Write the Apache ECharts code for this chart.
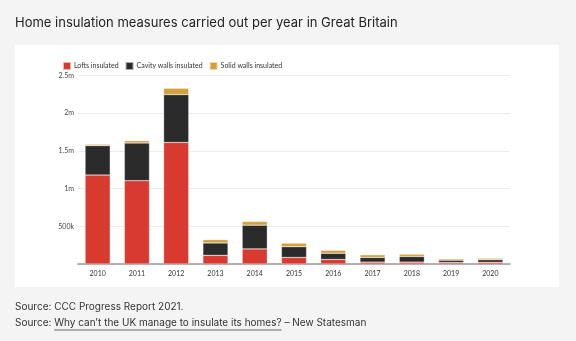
<!DOCTYPE html>
<html>
<head>
<meta charset="utf-8">
<script src="https://cdn.jsdelivr.net/npm/echarts@6/dist/echarts.min.js"></script>
<style>
  html, body { margin: 0; padding: 0; background: #f4f4f4; }
  #chart { width: 576px; height: 341px; }
</style>
</head>
<body>
<div id="chart"></div>
<script>
// Insulation measures per year, Great Britain (millions)
const years = ['2010', '2011', '2012', '2013', '2014', '2015', '2016', '2017', '2018', '2019', '2020'];
const lofts = [1.18, 1.105, 1.612, 0.115, 0.2, 0.087, 0.06, 0.025, 0.025, 0.02, 0.022];
const cavity = [0.39, 0.5, 0.635, 0.164, 0.315, 0.143, 0.082, 0.062, 0.075, 0.031, 0.035];
const solid = [0.018, 0.031, 0.084, 0.044, 0.049, 0.047, 0.04, 0.035, 0.031, 0.017, 0.02];
const yTicks = { 0: '', 0.5: '500k', 1: '1m', 1.5: '1.5m', 2: '2m', 2.5: '2.5m' };

const titleText = 'Home insulation measures carried out per year in Great Britain';
const sourceLine1 = 'Source: CCC Progress Report 2021.';
const sourcePrefix = 'Source: ';
const sourceLink = 'Why can\u2019t the UK manage to insulate its homes?';
const sourceSuffix = ' \u2013 New Statesman';

const chart = echarts.init(document.getElementById('chart'), null, { renderer: 'canvas' });

const bodyFont = '10px Inter, "Noto Sans", sans-serif';
const ctx = document.createElement('canvas').getContext('2d');
ctx.font = bodyFont;
const prefixW = ctx.measureText(sourcePrefix).width;
const linkW = ctx.measureText(sourceLink).width;

const segStyle = (color) => ({ color: color, borderColor: 'rgba(255,255,255,0.6)', borderWidth: 0.5 });

chart.setOption({
  backgroundColor: '#f4f4f4',
  animation: false,
  textStyle: { fontFamily: 'Inter, "Noto Sans", sans-serif' },
  graphic: [
    { type: 'rect', z: -10, shape: { x: 15, y: 45, width: 544, height: 242 }, style: { fill: '#ffffff' }, silent: true },
    { type: 'text', left: 15, top: 17, style: { text: titleText, font: '400 13px Inter, "Noto Sans", sans-serif', fill: '#222222' } },
    { type: 'text', left: 15, top: 302, style: { text: sourceLine1, font: bodyFont, fill: '#333333' } },
    { type: 'text', left: 15, top: 318, style: { text: sourcePrefix + sourceLink + sourceSuffix, font: bodyFont, fill: '#333333' } },
    { type: 'line', shape: { x1: 15 + prefixW, y1: 330, x2: 15 + prefixW + linkW, y2: 330 }, style: { stroke: '#444444', lineWidth: 0.8 } }
  ],
  legend: {
    left: 57, top: 56,
    itemWidth: 8, itemHeight: 8, itemGap: 6,
    icon: 'rect',
    textStyle: { fontSize: 7, color: '#333333', fontFamily: 'Lato, "DejaVu Sans", sans-serif', padding: [0, 0, 0, -2] },
    data: ['Lofts insulated', 'Cavity walls insulated', 'Solid walls insulated']
  },
  grid: { left: 78, right: 66, top: 75.5, bottom: 77, containLabel: false },
  xAxis: {
    type: 'category',
    data: years,
    axisLine: { lineStyle: { color: '#999999', width: 1.5 } },
    axisTick: { show: false },
    axisLabel: { fontSize: 7, color: '#333333', margin: 6, fontFamily: 'Lato, "DejaVu Sans", sans-serif' }
  },
  yAxis: {
    type: 'value',
    min: 0, max: 2.5, interval: 0.5,
    axisLine: { show: false },
    axisTick: { show: false },
    splitLine: { lineStyle: { color: '#ebebeb', width: 1 } },
    axisLabel: {
      fontSize: 7, color: '#444444', margin: 4, fontFamily: 'Lato, "DejaVu Sans", sans-serif',
      formatter: (v) => yTicks[v] !== undefined ? yTicks[v] : ''
    }
  },
  series: [
    { name: 'Lofts insulated', type: 'bar', stack: 'total', data: lofts, barWidth: '64%', itemStyle: segStyle('#d93a2f') },
    { name: 'Cavity walls insulated', type: 'bar', stack: 'total', data: cavity, itemStyle: segStyle('#2b2b2b') },
    { name: 'Solid walls insulated', type: 'bar', stack: 'total', data: solid, itemStyle: segStyle('#d4a03a') }
  ]
});
</script>
</body>
</html>
